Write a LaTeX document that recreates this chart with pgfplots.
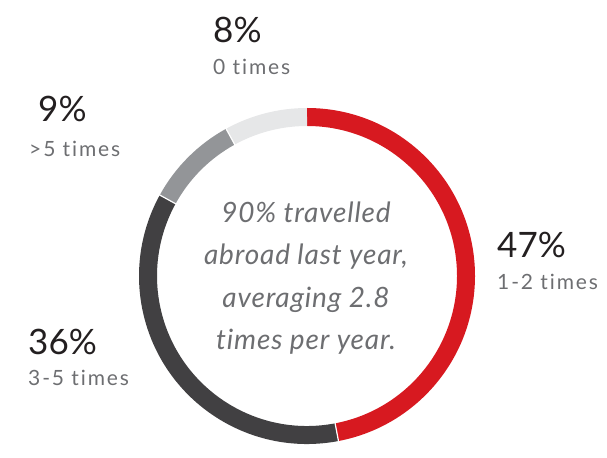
\documentclass[border=0pt]{standalone}
\usepackage{pgfplots}
\pgfplotsset{compat=1.18}
\usepackage{pgfplotstable}
\usepackage{fontspec}
\setmainfont[Ligatures={NoCommon,NoRare,NoContextual}]{Lato}
\newfontfamily\smallfont[Ligatures={NoCommon,NoRare,NoContextual},LetterSpace=9]{Lato}
\newfontfamily\midfont[Ligatures={NoCommon,NoRare,NoContextual},LetterSpace=3]{Lato}
\definecolor{cRed}{HTML}{D71920}
\definecolor{cDark}{HTML}{414042}
\definecolor{cGray}{HTML}{939598}
\definecolor{cLight}{HTML}{E6E7E8}
\definecolor{cText}{HTML}{6D6E71}
\definecolor{cBlack}{HTML}{231F20}
\pgfplotstableread{
share color
47 cRed
36 cDark
9 cGray
8 cLight
}\shares
\begin{document}
\begin{tikzpicture}
\begin{axis}[x=1pt,y=1pt,xmin=0,xmax=607,ymin=0,ymax=446,hide axis,
  scale only axis,width=607pt,height=446pt,clip=false]
\addplot[draw=none] coordinates {(0,0) (607,446)};
\pgfmathsetmacro{\ang}{90}
\pgfplotsforeachungrouped \i in {0,...,3}{%
  \pgfplotstablegetelem{\i}{share}\of\shares
  \let\val\pgfplotsretval
  \pgfplotstablegetelem{\i}{color}\of\shares
  \let\col\pgfplotsretval
  \pgfmathsetmacro{\endang}{\ang-3.6*\val}
  \edef\temp{\noexpand\draw[line width=18pt,\col] (axis cs:{307+159*cos(\ang)},{170+159*sin(\ang)}) arc[start angle=\ang,end angle=\endang,radius=159pt];}
  \temp
  \global\let\ang\endang
}
\draw[white,line width=1.2pt] (axis cs:{307+148*cos(-79.2)},{170+148*sin(-79.2)}) -- (axis cs:{307+170*cos(-79.2)},{170+170*sin(-79.2)});
\draw[white,line width=1.2pt] (axis cs:{307+148*cos(151.2)},{170+148*sin(151.2)}) -- (axis cs:{307+170*cos(151.2)},{170+170*sin(151.2)});
\draw[white,line width=1.2pt] (axis cs:{307+148*cos(118.8)},{170+148*sin(118.8)}) -- (axis cs:{307+170*cos(118.8)},{170+170*sin(118.8)});
% labels
\tikzset{big/.style={anchor=base west,inner sep=0pt,text=cBlack,font=\fontsize{35}{35}\selectfont},
 small/.style={anchor=base west,inner sep=0pt,text=cText,font=\smallfont\fontsize{21}{21}\selectfont},
 mid/.style={anchor=base,inner sep=0pt,text=cText,font=\midfont\fontsize{28}{28}\selectfont\itshape}}
\node[big] at (axis cs:213,403) {8\%};
\node[small] at (axis cs:213,371) {0 times};
\node[big] at (axis cs:38,324) {9\%};
\node[small] at (axis cs:29,289) {>5 times};
\node[big] at (axis cs:497,188) {47\%};
\node[small] at (axis cs:497,156) {1-2 times};
\node[big] at (axis cs:28,91) {36\%};
\node[small] at (axis cs:28,60) {3-5 times};
\node[mid] at (axis cs:306,223) {90\% travelled};
\node[mid] at (axis cs:306,181) {abroad last year,};
\node[mid] at (axis cs:306,138) {averaging 2.8};
\node[mid] at (axis cs:306,96) {times per year.};
\end{axis}
\end{tikzpicture}
\end{document}
